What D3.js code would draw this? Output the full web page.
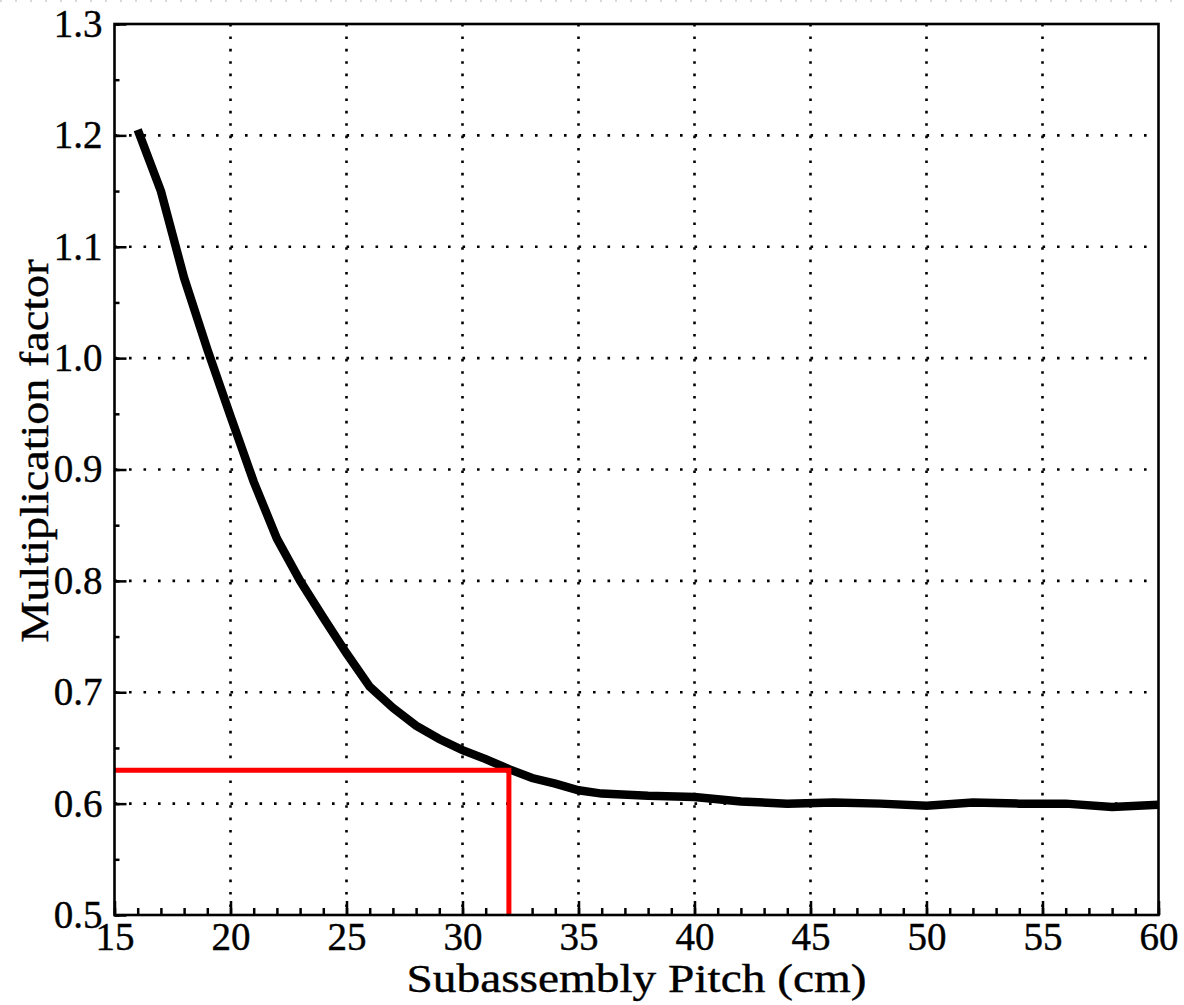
<!DOCTYPE html>
<html lang="en">
<head>
    <meta charset="UTF-8">
    <title>Multiplication factor vs subassembly pitch</title>
    <script src="https://d3js.org/d3.v7.min.js"></script>
    <style>
        body { margin: 0; background: #fff; }
        svg text { font-family: 'Liberation Serif', serif; fill: #000; }
    </style>
</head>
<body>
<div id="chart"></div>
<script>

    // data
    var pitch  = [16, 17, 18, 19, 20, 21, 22, 23, 24, 25, 26, 27, 28, 29, 30, 31, 32, 33, 34, 35, 36, 38, 40, 42, 44, 46, 48, 50, 52, 54, 56, 58, 60];
    var factor = [1.205, 1.150, 1.072, 1.008, 0.948, 0.889, 0.838, 0.800, 0.767, 0.735, 0.705, 0.686, 0.670, 0.658, 0.648, 0.640, 0.631, 0.623, 0.618, 0.612, 0.609, 0.607, 0.606, 0.602, 0.600, 0.601, 0.600, 0.598, 0.601, 0.600, 0.600, 0.597, 0.599];
    var xTicks = [15, 20, 25, 30, 35, 40, 45, 50, 55, 60];
    var yTicks = [0.5, 0.6, 0.7, 0.8, 0.9, 1.0, 1.1, 1.2, 1.3];
    var xMinor = d3.range(15, 61, 1);
    var yMinor = d3.range(0.5, 1.3001, 0.05);
    var markPitch = 32, markFactor = 0.63;

    var margin = {top: 24, right: 25.5, bottom: 90, left: 114.5},
        width = 1184 - margin.left - margin.right,
        height = 1005 - margin.top - margin.bottom;

    var svg = d3.select("#chart")
      .append("svg")
        .attr("width", 1184)
        .attr("height", 1005);

    // faint dotted edge at the very top of the picture
    svg.append("line")
        .attr("x1", 0).attr("x2", 1184)
        .attr("y1", 1).attr("y2", 1)
        .attr("stroke", "#d8d8d8")
        .attr("stroke-width", 2)
        .attr("stroke-dasharray", "2,13");

    var g = svg.append("g")
        .attr("transform", "translate(" + margin.left + "," + margin.top + ")");

    var x = d3.scaleLinear().domain([15, 60]).range([0, width]);
    var y = d3.scaleLinear().domain([0.5, 1.3]).range([height, 0]);

    // dotted grid
    g.selectAll(".vgrid")
        .data(xTicks.slice(1, -1))
      .enter().append("line")
        .attr("class", "vgrid")
        .attr("x1", function(d) { return x(d); })
        .attr("x2", function(d) { return x(d); })
        .attr("y1", 0)
        .attr("y2", height)
        .attr("stroke", "#000")
        .attr("stroke-width", 2.6)
        .attr("stroke-dasharray", "2.6,9.8");

    g.selectAll(".hgrid")
        .data(yTicks.slice(1, -1))
      .enter().append("line")
        .attr("class", "hgrid")
        .attr("x1", 0)
        .attr("x2", width)
        .attr("y1", function(d) { return y(d); })
        .attr("y2", function(d) { return y(d); })
        .attr("stroke", "#000")
        .attr("stroke-width", 2.6)
        .attr("stroke-dasharray", "2.6,11.9");

    // minor ticks
    g.append("g")
        .attr("transform", "translate(0," + height + ")")
        .call(d3.axisBottom(x).tickValues(xMinor).tickSize(-7).tickFormat(""))
        .call(function(a) { a.select(".domain").remove(); })
        .selectAll("line").attr("stroke-width", 2.5);

    g.append("g")
        .call(d3.axisLeft(y).tickValues(yMinor).tickSize(-5).tickFormat(""))
        .call(function(a) { a.select(".domain").remove(); })
        .selectAll("line").attr("stroke-width", 2.5);

    // major ticks + labels
    var xAxis = g.append("g")
        .attr("transform", "translate(0," + height + ")")
        .call(d3.axisBottom(x).tickValues(xTicks).tickSize(-14).tickPadding(7).tickFormat(d3.format("d")));
    xAxis.select(".domain").remove();
    xAxis.selectAll("line").attr("stroke-width", 2.5);
    xAxis.selectAll("text")
        .style("font-family", "'Liberation Serif', serif")
        .style("font-size", "39px")
        .attr("stroke", "#000")
        .attr("stroke-width", 0.4);

    var yAxis = g.append("g")
        .call(d3.axisLeft(y).tickValues(yTicks).tickSize(-12).tickPadding(12).tickFormat(d3.format(".1f")));
    yAxis.select(".domain").remove();
    yAxis.selectAll("line").attr("stroke-width", 2.5);
    yAxis.selectAll("text")
        .style("font-family", "'Liberation Serif', serif")
        .style("font-size", "39px")
        .attr("stroke", "#000")
        .attr("stroke-width", 0.4);

    // curve
    var line = d3.line()
        .x(function(d) { return x(d[0]); })
        .y(function(d) { return y(d[1]); });

    g.append("path")
        .datum(d3.zip(pitch, factor))
        .attr("d", line)
        .attr("fill", "none")
        .attr("stroke", "#000")
        .attr("stroke-width", 8.5);

    // red read-off line
    g.append("path")
        .datum([[15, markFactor], [markPitch, markFactor], [markPitch, 0.5]])
        .attr("d", line)
        .attr("fill", "none")
        .attr("stroke", "#ff0000")
        .attr("stroke-width", 5)
        .attr("stroke-linejoin", "miter");

    // frame
    g.append("rect")
        .attr("width", width)
        .attr("height", height)
        .attr("fill", "none")
        .attr("stroke", "#000")
        .attr("stroke-width", 2.6);

    // axis titles
    svg.append("text")
        .attr("x", margin.left + width / 2)
        .attr("y", 992)
        .attr("text-anchor", "middle")
        .attr("textLength", 460)
        .attr("lengthAdjust", "spacingAndGlyphs")
        .attr("stroke", "#000")
        .attr("stroke-width", 0.4)
        .style("font-size", "41px")
        .text("Subassembly Pitch (cm)");

    svg.append("text")
        .attr("transform", "translate(48,451) rotate(-90)")
        .attr("text-anchor", "middle")
        .attr("textLength", 383)
        .attr("lengthAdjust", "spacingAndGlyphs")
        .attr("stroke", "#000")
        .attr("stroke-width", 0.4)
        .style("font-size", "41px")
        .text("Multiplication factor");

</script>
</body>
</html>
